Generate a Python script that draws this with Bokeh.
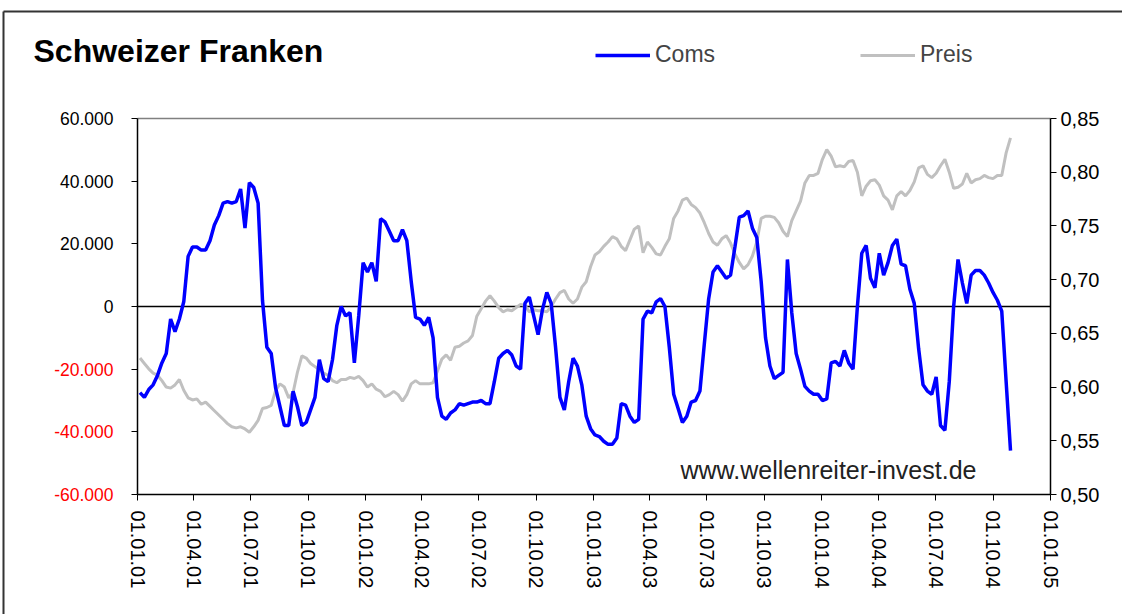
import pandas as pd
from bokeh.plotting import figure
from bokeh.models import (Range1d, LinearAxis, FixedTicker, DatetimeTickFormatter,
                          Label, LabelSet, Legend, LegendItem, ColumnDataSource,
                          CustomJSTickFormatter)
from bokeh.core.properties import value
from bokeh.embed import file_html
from bokeh.resources import INLINE

# ---------------- data ----------------
title_text = "Schweizer Franken"
series_names = ["Coms", "Preis"]
first_week = "2001-01-05"

# Commitments (thousands of contracts), weekly
coms_k = [
    -27.5, -29, -26.5, -25, -22, -18, -15, -4, -8, -4,
    1.5, 16, 19, 19, 18, 18, 21, 26, 29, 33,
    33.5, 33, 33.5, 37.5, 25, 39.5, 38, 33, 2, -13,
    -15, -26, -32, -38, -38, -27, -32, -38, -37, -33,
    -29, -17, -23, -24, -17, -6, 0, -3, -2, -18,
    -3, 14, 11, 14, 8, 28, 27, 24, 21, 21,
    24.5, 21, 8, -3.5, -4, -6, -3.5, -10, -29, -35,
    -36, -34, -33, -31, -31.5, -31, -30.5, -30.5, -30, -31,
    -31, -24, -16.5, -15, -14, -15.5, -19, -20, 1, 3,
    -3, -9, -1, 4.5, 1, -13, -29, -33, -24, -16.5,
    -19, -25, -35, -39, -41, -41.5, -43, -44, -44, -42,
    -31, -31.5, -35, -37, -36, -4, -1.5, -2, 1.5, 2.5,
    0, -13, -28, -32.5, -37, -35, -30.5, -30, -27, -12,
    2.5, 11, 13, 11, 9, 10, 19, 28.5, 29, 30.5,
    25, 22, 8, -10, -19, -23, -22, -21, 15, -2,
    -15, -20, -25.5, -27, -28, -28, -30, -29.5, -18, -17.5,
    -19, -14, -18, -20, 0, 17, 19.5, 9, 6, 17,
    10, 14, 19.5, 21.5, 13.5, 13, 5.5, 1, -13.5, -25,
    -27, -28, -22.5, -38, -39.5, -24, 0, 15, 7.5, 1,
    10, 11.5, 11.5, 10, 7.5, 4.5, 2, -1.5, -24, -46,
]

# Price, weekly
preis = [
    0.627, 0.622, 0.617, 0.613, 0.611, 0.606, 0.600, 0.599, 0.602, 0.607,
    0.597, 0.590, 0.588, 0.589, 0.584, 0.586, 0.582, 0.578, 0.574, 0.570,
    0.566, 0.563, 0.562, 0.563, 0.561, 0.558, 0.563, 0.569, 0.580, 0.581,
    0.583, 0.597, 0.603, 0.600, 0.590, 0.595, 0.614, 0.629, 0.627, 0.622,
    0.619, 0.616, 0.613, 0.611, 0.606, 0.604, 0.607, 0.607, 0.609, 0.608,
    0.610, 0.606, 0.600, 0.603, 0.598, 0.596, 0.591, 0.593, 0.596, 0.593,
    0.587, 0.593, 0.603, 0.606, 0.603, 0.603, 0.603, 0.604, 0.615, 0.626,
    0.630, 0.625, 0.637, 0.638, 0.641, 0.643, 0.648, 0.666, 0.673, 0.680,
    0.685, 0.680, 0.674, 0.670, 0.672, 0.671, 0.674, 0.677, 0.676, 0.670,
    0.672, 0.671, 0.671, 0.670, 0.675, 0.682, 0.688, 0.690, 0.682, 0.678,
    0.682, 0.693, 0.698, 0.712, 0.723, 0.726, 0.731, 0.735, 0.740, 0.738,
    0.731, 0.727, 0.737, 0.747, 0.750, 0.725, 0.735, 0.730, 0.724, 0.723,
    0.731, 0.738, 0.757, 0.764, 0.774, 0.776, 0.770, 0.767, 0.762, 0.753,
    0.743, 0.735, 0.732, 0.738, 0.741, 0.734, 0.724, 0.716, 0.710, 0.714,
    0.722, 0.735, 0.757, 0.759, 0.759, 0.758, 0.753, 0.745, 0.740, 0.755,
    0.764, 0.773, 0.790, 0.797, 0.797, 0.799, 0.812, 0.821, 0.815, 0.805,
    0.806, 0.805, 0.810, 0.811, 0.800, 0.778, 0.787, 0.792, 0.793, 0.788,
    0.778, 0.774, 0.765, 0.778, 0.782, 0.778, 0.783, 0.791, 0.804, 0.806,
    0.798, 0.795, 0.799, 0.806, 0.812, 0.800, 0.785, 0.786, 0.789, 0.799,
    0.790, 0.793, 0.794, 0.797, 0.795, 0.794, 0.797, 0.797, 0.818, 0.832,
]

left_ticks = [60000, 40000, 20000, 0, -20000, -40000, -60000]
left_tick_labels = ["60.000", "40.000", "20.000", "0", "-20.000", "-40.000", "-60.000"]
right_ticks = [0.50, 0.55, 0.60, 0.65, 0.70, 0.75, 0.80, 0.85]
right_tick_labels = ["0,50", "0,55", "0,60", "0,65", "0,70", "0,75", "0,80", "0,85"]
x_tick_dates = ["2001-01-01", "2001-04-01", "2001-07-01", "2001-10-01",
                "2002-01-01", "2002-04-01", "2002-07-01", "2002-10-01",
                "2003-01-01", "2003-04-01", "2003-07-01", "2003-10-01",
                "2004-01-01", "2004-04-01", "2004-07-01", "2004-10-01",
                "2005-01-01"]
watermark = "www.wellenreiter-invest.de"

# ---------------- layout (canvas pixels) ----------------
FONT = "Liberation Sans"
W, H = 1122, 614                      # canvas = frame (all axes are pinned inside it)
PL, PR, PT, PB = 137, 1050, 118, 494  # plot-area edges

dates = pd.date_range(first_week, periods=len(coms_k), freq="7D")
coms = [v * 1000 for v in coms_k]
src = ColumnDataSource(dict(date=dates, coms=coms, preis=preis))

x0 = pd.Timestamp(x_tick_dates[0]).timestamp() * 1000
x1 = pd.Timestamp(x_tick_dates[-1]).timestamp() * 1000
ms_px = (x1 - x0) / (PR - PL)
y_lo, y_hi = left_ticks[-1], left_ticks[0]
y_px = (y_hi - y_lo) / (PB - PT)
r_lo, r_hi = right_ticks[0], right_ticks[-1]
r_px = (r_hi - r_lo) / (PB - PT)

p = figure(output_backend="svg", toolbar_location=None, title=None,
           frame_width=W, frame_height=H,
           min_border_left=0, min_border_right=0, min_border_top=0, min_border_bottom=0,
           x_range=Range1d(x0 - PL * ms_px, x1 + (W - PR) * ms_px),
           y_range=Range1d(y_lo - (H - PB) * y_px, y_hi + PT * y_px),
           x_axis_type="datetime")
p.extra_y_ranges = {"preis": Range1d(r_lo - (H - PB) * r_px, r_hi + PT * r_px)}
p.background_fill_color = "white"
p.border_fill_color = "white"
p.outline_line_color = None
p.grid.visible = False

# x axis (pinned to the bottom of the plot area)
xa = p.xaxis[0]
xa.ticker = FixedTicker(ticks=[pd.Timestamp(d).timestamp() * 1000 for d in x_tick_dates])
fmt = "%d.%m.%y"
xa.formatter = DatetimeTickFormatter(days=fmt, months=fmt, years=fmt, hours=fmt,
                                     hourmin=fmt, minutes=fmt, minsec=fmt, seconds=fmt,
                                     milliseconds=fmt, microseconds=fmt)
xa.fixed_location = y_lo
xa.bounds = (x0, x1)
xa.major_label_orientation = "vertical"
xa.major_label_text_font = FONT
xa.major_label_text_font_size = "20px"
xa.major_label_text_color = "black"
xa.major_label_standoff = 10
xa.minor_tick_line_color = None
xa.major_tick_in = 0
xa.major_tick_out = 6
xa.axis_line_color = "black"
xa.axis_line_width = 1.5

# left axis drawn at the first date; labels coloured per sign below
ya = p.yaxis[0]
ya.ticker = FixedTicker(ticks=left_ticks)
ya.formatter = CustomJSTickFormatter(code="return ''")
ya.fixed_location = x0
ya.bounds = (y_lo, y_hi)
ya.minor_tick_line_color = None
ya.major_tick_in = 0
ya.major_tick_out = 6
ya.major_label_standoff = 0
ya.axis_line_color = "black"
ya.axis_line_width = 1.5

lab_src = ColumnDataSource(dict(
    x=[x0] * len(left_ticks), y=left_ticks, text=left_tick_labels,
    color=["#FF0000" if v < 0 else "black" for v in left_ticks]))
p.add_layout(LabelSet(x="x", y="y", text="text", x_offset=-24, source=lab_src,
                      text_color="color", text_align="right", text_baseline="middle",
                      text_font=value(FONT), text_font_size="17.5px"))

# right axis
ra = LinearAxis(y_range_name="preis", ticker=FixedTicker(ticks=right_ticks),
                major_label_overrides={t: l for t, l in zip(right_ticks, right_tick_labels)})
ra.fixed_location = x1
ra.bounds = (r_lo, r_hi)
ra.minor_tick_line_color = None
ra.major_tick_in = 0
ra.major_tick_out = 6
ra.major_label_standoff = 4
ra.axis_line_color = "black"
ra.axis_line_width = 1.5
ra.major_label_text_font = FONT
ra.major_label_text_font_size = "20px"
ra.major_label_text_color = "black"
p.add_layout(ra, "right")

# plot-area top edge and zero line
p.segment(x0=[x0], x1=[x1], y0=[y_hi], y1=[y_hi], line_color="#808080", line_width=1.5)
p.segment(x0=[x0], x1=[x1], y0=[0], y1=[0], line_color="black", line_width=1.5)

# outer chart border (top and left edges of the chart area)
bx = x0 - (PL - 3) * ms_px
by = y_hi + (PT - 11) * y_px
p.segment(x0=[bx, bx], x1=[x1 + (W - PR) * ms_px, bx], y0=[by, by],
          y1=[by, y_lo - (H - PB) * y_px],
          line_color="#333333", line_width=2)

# series
r_preis = p.line("date", "preis", source=src, y_range_name="preis",
                 line_color="#C0C0C0", line_width=3)
r_coms = p.line("date", "coms", source=src, line_color="#0000FF", line_width=3.5)

# legends
for name, rend, xpix in [(series_names[0], r_coms, 595), (series_names[1], r_preis, 860)]:
    lg = Legend(items=[LegendItem(label=name, renderers=[rend])],
                location=(xpix, H - 68),
                orientation="horizontal", padding=0, margin=0, spacing=0,
                glyph_width=55, glyph_height=20, label_height=20, label_standoff=5,
                label_text_font=FONT, label_text_font_size="23px",
                border_line_color=None, background_fill_alpha=0)
    p.add_layout(lg)

p.add_layout(Label(x=33, y=H - 50, x_units="screen", y_units="screen", text=title_text,
                   text_font=FONT, text_font_size="32px", text_font_style="bold",
                   text_baseline="middle", text_color="black"))
p.add_layout(Label(x=680, y=H - 469, x_units="screen", y_units="screen", text=watermark,
                   text_font=FONT, text_font_size="25px",
                   text_baseline="middle", text_color="#222222"))

open("out.html", "w").write(file_html(p, INLINE))
